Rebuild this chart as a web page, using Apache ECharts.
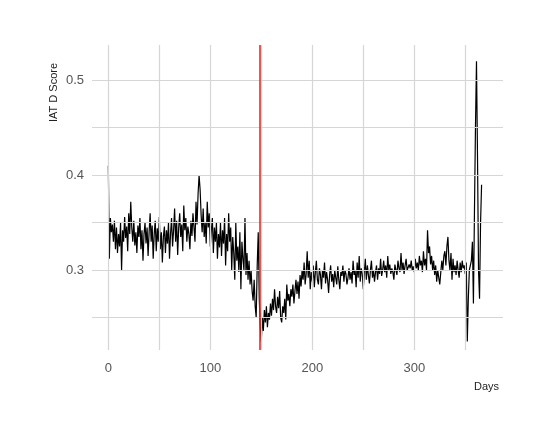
<!DOCTYPE html><html><head><meta charset="utf-8">
<script src="https://cdn.jsdelivr.net/npm/echarts@6/dist/echarts.min.js"></script>
<style>html,body{margin:0;background:#fff}#c{width:550px;height:440px}</style></head><body><div id="c"></div>
<script>
const scores = [
0.410,0.312,0.355,0.340,0.348,0.330,0.352,0.322,0.345,0.318,
0.338,0.325,0.350,0.300,0.342,0.330,0.356,0.334,0.346,0.320,
0.360,0.338,0.372,0.345,0.330,0.352,0.326,0.340,0.318,0.347,
0.335,0.355,0.322,0.342,0.310,0.338,0.350,0.328,0.345,0.315,
0.340,0.360,0.330,0.347,0.312,0.338,0.352,0.320,0.344,0.330,
0.356,0.322,0.340,0.308,0.335,0.346,0.318,0.342,0.328,0.350,
0.312,0.338,0.355,0.325,0.342,0.365,0.330,0.352,0.316,0.345,
0.360,0.335,0.348,0.320,0.368,0.342,0.355,0.330,0.346,0.338,
0.322,0.352,0.336,0.360,0.345,0.330,0.372,0.348,0.380,0.400,
0.385,0.358,0.340,0.365,0.335,0.350,0.328,0.372,0.345,0.360,
0.325,0.342,0.355,0.318,0.345,0.330,0.350,0.312,0.338,0.324,
0.350,0.315,0.342,0.328,0.355,0.305,0.338,0.320,0.360,0.330,
0.345,0.300,0.335,0.318,0.290,0.350,0.310,0.325,0.298,0.340,
0.280,0.330,0.312,0.300,0.355,0.295,0.318,0.290,0.310,0.285,
0.300,0.278,0.268,0.290,0.262,0.250,0.305,0.340,0.270,0.240,
0.225,0.250,0.236,0.258,0.245,0.262,0.240,0.255,0.248,0.265,
0.252,0.270,0.258,0.280,0.262,0.255,0.272,0.260,0.278,0.250,
0.245,0.262,0.255,0.270,0.248,0.285,0.268,0.275,0.262,0.280,
0.272,0.285,0.265,0.278,0.290,0.275,0.288,0.270,0.295,0.283,
0.300,0.290,0.308,0.285,0.296,0.320,0.292,0.310,0.280,0.298,
0.288,0.305,0.282,0.298,0.310,0.290,0.285,0.302,0.295,0.280,
0.300,0.292,0.308,0.286,0.298,0.290,0.276,0.295,0.305,0.288,
0.296,0.282,0.300,0.292,0.285,0.304,0.290,0.280,0.298,0.294,
0.305,0.288,0.300,0.296,0.285,0.292,0.302,0.290,0.298,0.286,
0.310,0.295,0.300,0.282,0.308,0.292,0.315,0.288,0.302,0.296,
0.280,0.298,0.312,0.290,0.305,0.295,0.286,0.300,0.310,0.292,
0.300,0.288,0.298,0.305,0.290,0.302,0.296,0.312,0.294,0.300,
0.310,0.298,0.305,0.292,0.315,0.300,0.306,0.296,0.302,0.298,
0.290,0.306,0.300,0.295,0.310,0.302,0.298,0.318,0.300,0.308,
0.296,0.305,0.312,0.300,0.298,0.306,0.302,0.310,0.300,0.304,
0.298,0.312,0.302,0.308,0.300,0.315,0.305,0.310,0.298,0.320,
0.305,0.312,0.300,0.342,0.318,0.325,0.306,0.315,0.300,0.310,
0.295,0.305,0.288,0.300,0.292,0.285,0.298,0.310,0.300,0.315,
0.320,0.305,0.325,0.335,0.310,0.300,0.318,0.290,0.312,0.298,
0.305,0.295,0.310,0.300,0.292,0.308,0.298,0.310,0.302,0.305,
0.296,0.308,0.225,0.270,0.300,0.305,0.310,0.330,0.265,0.360,
0.450,0.520,0.420,0.300,0.270,0.350,0.390];
const xTicks = [0,100,200,300];
const xGrid = [0,50,100,150,200,250,300,350];
const yTicks = [0.3,0.4,0.5];
const yGrid = [0.25,0.3,0.35,0.4,0.45,0.5];
const cutDay = [148];

const data = scores.map((v,i)=>[i,v]);
const ch = echarts.init(document.getElementById('c'));
ch.setOption({
  animation:false,
  grid:{left:92,right:47,top:45,bottom:90},
  xAxis:{type:'value',min:-16,max:387,axisLine:{show:false},axisTick:{show:false},splitLine:{show:false},
    axisLabel:{customValues:xTicks,color:'#555',fontSize:13,margin:12,fontFamily:'Arial'}},
  yAxis:{type:'value',min:0.216,max:0.537,axisLine:{show:false},axisTick:{show:false},splitLine:{show:false},
    axisLabel:{customValues:yTicks,color:'#555',fontSize:13,margin:8,fontFamily:'Arial',formatter:v=>v.toFixed(1)}},
  graphic:[
    {type:'text',left:474,top:381,style:{text:'Days',fontSize:11,fill:'#222',fontFamily:'Arial'}},
    {type:'text',x:48,y:122,rotation:Math.PI/2,style:{text:'IAT D Score',fontSize:11,fill:'#222',fontFamily:'Arial'}}
  ],
  series:[
    {type:'line',data:[],silent:true,
     markLine:{silent:true,symbol:'none',label:{show:false},animation:false,
       data:[...xGrid.map(x=>({xAxis:x,lineStyle:{color:'#d6d6d6',width:1.2,type:'solid'}})),
             ...yGrid.map(y=>({yAxis:y,lineStyle:{color:'#d6d6d6',width:1.2,type:'solid'}}))]}},
    {type:'line',data:data,showSymbol:false,lineStyle:{color:'#000',width:1.2},
     markLine:{silent:true,symbol:'none',label:{show:false},
       data:cutDay.map(x=>({xAxis:x})),lineStyle:{color:'#e0201c',width:1.5,type:'solid'}}}
  ]
});
</script></body></html>
